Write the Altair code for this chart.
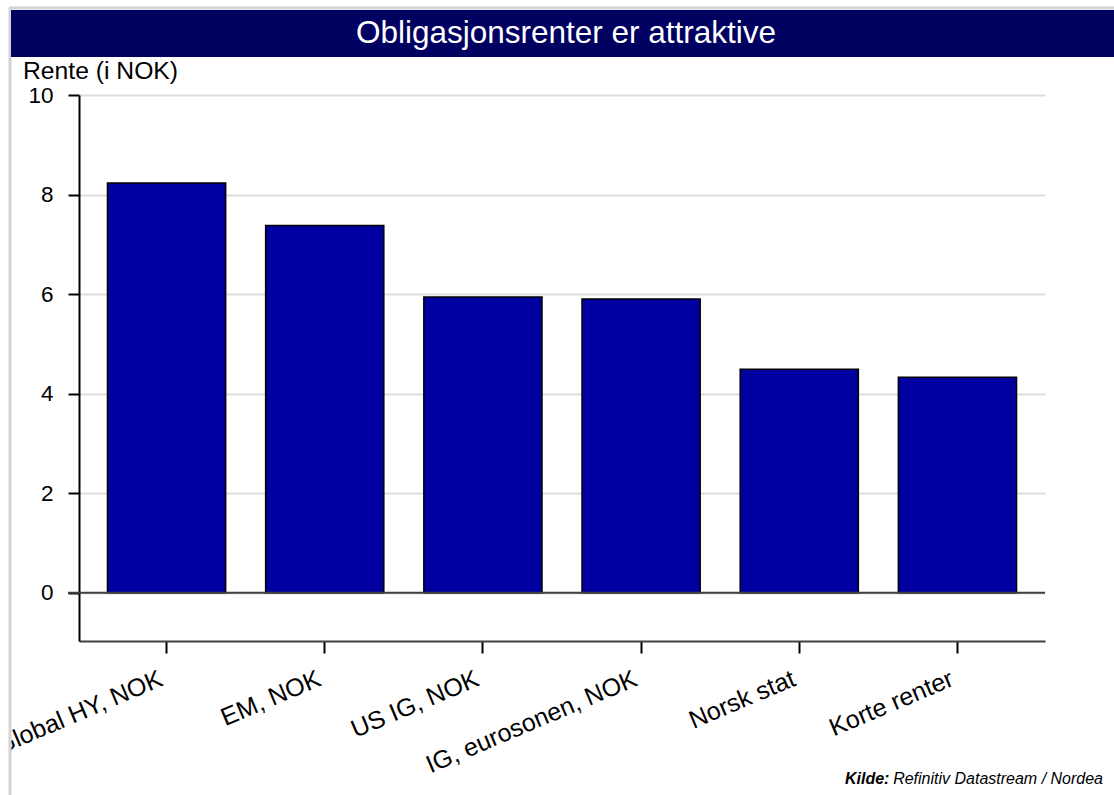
import altair as alt
import pandas as pd

categories = ["Global HY, NOK", "EM, NOK", "US IG, NOK", "IG, eurosonen, NOK", "Norsk stat", "Korte renter"]
values = [8.23, 7.38, 5.94, 5.90, 4.49, 4.33]
y_ticks = [0, 2, 4, 6, 8, 10]

title_text = "Obligasjonsrenter er attraktive"
y_title = "Rente (i NOK)"
source_bold = "Kilde:"
source_rest = "Refinitiv  Datastream / Nordea"

df = pd.DataFrame({"kategori": categories, "rente": values})
one = pd.DataFrame({"d": [0]})

W, H = 966, 546
OX, OY = 79, 95
FONT = "Liberation Sans"

x_enc = alt.X(
    "kategori:N",
    sort=categories,
    scale=alt.Scale(paddingInner=0.253, paddingOuter=0.18),
    axis=alt.Axis(
        title=None, labelAngle=337, labelFontSize=25, labelFont=FONT, labelColor="black",
        labelLimit=500, labelPadding=13, labelOffset=-10, tickSize=12, tickWidth=2, tickColor="black",
        domainColor="#404040", domainWidth=2, zindex=0,
    ),
)
y_enc = alt.Y(
    "rente:Q",
    scale=alt.Scale(domain=[-0.97, 10], nice=False, zero=False),
    axis=alt.Axis(
        title=None, values=y_ticks, labelFontSize=22.5, labelFont=FONT, labelColor="black",
        labelPadding=15, tickSize=11, tickWidth=2, tickColor="black",
        domainColor="black", domainWidth=2, grid=True, gridColor="#dddddd", gridWidth=2, zindex=0,
    ),
)

bars = alt.Chart(df).mark_bar(color="#0000a0", stroke="black", strokeWidth=1.5).encode(x=x_enc, y=y_enc)

zero = alt.Chart(pd.DataFrame({"z": [0]})).mark_rule(color="#404040", strokeWidth=2).encode(
    y="z:Q", x=alt.value(-11), x2=alt.value(W)
)

# decorations
white = alt.Chart(one).mark_rect(color="white").encode(
    x=alt.value(-OX), x2=alt.value(-OX + 10), y=alt.value(-OY), y2=alt.value(700)
)
frame_top = alt.Chart(one).mark_rule(color="#d4d4d4", strokeWidth=3).encode(
    x=alt.value(-OX + 9), x2=alt.value(1114 - OX), y=alt.value(8 - OY)
)
frame_left = alt.Chart(one).mark_rule(color="#d4d4d4", strokeWidth=3).encode(
    x=alt.value(10 - OX), y=alt.value(8 - OY), y2=alt.value(795 - OY)
)
title_bar = alt.Chart(one).mark_rect(color="#000060").encode(
    x=alt.value(11 - OX), x2=alt.value(1114 - OX), y=alt.value(10 - OY), y2=alt.value(57 - OY)
)
title = alt.Chart(one).mark_text(
    text=title_text, color="white", fontSize=31.5, font=FONT, align="center", baseline="middle"
).encode(x=alt.value(566 - OX), y=alt.value(34 - OY))
ytitle = alt.Chart(one).mark_text(
    text=y_title, color="black", fontSize=24.7, font=FONT, align="left", baseline="alphabetic"
).encode(x=alt.value(23 - OX), y=alt.value(79 - OY))
src1 = alt.Chart(one).mark_text(
    text=source_bold, color="black", fontSize=16, font=FONT, fontStyle="italic", fontWeight="bold",
    align="left", baseline="alphabetic"
).encode(x=alt.value(845 - OX), y=alt.value(784 - OY))
src2 = alt.Chart(one).mark_text(
    text=source_rest, color="black", fontSize=16, font=FONT, fontStyle="italic",
    align="right", baseline="alphabetic"
).encode(x=alt.value(1103 - OX), y=alt.value(784 - OY))

chart = alt.layer(
    bars, zero, white, frame_top, frame_left, title_bar, title, ytitle, src1, src2
).properties(
    width=W, height=H,
    autosize=alt.AutoSizeParams(type="none"),
    padding={"left": OX, "top": OY, "right": 1114 - OX - W, "bottom": 795 - OY - H},
    background="white",
).configure_view(stroke=None)

chart.save("out.html", embed_options={"renderer": "svg", "actions": False})
